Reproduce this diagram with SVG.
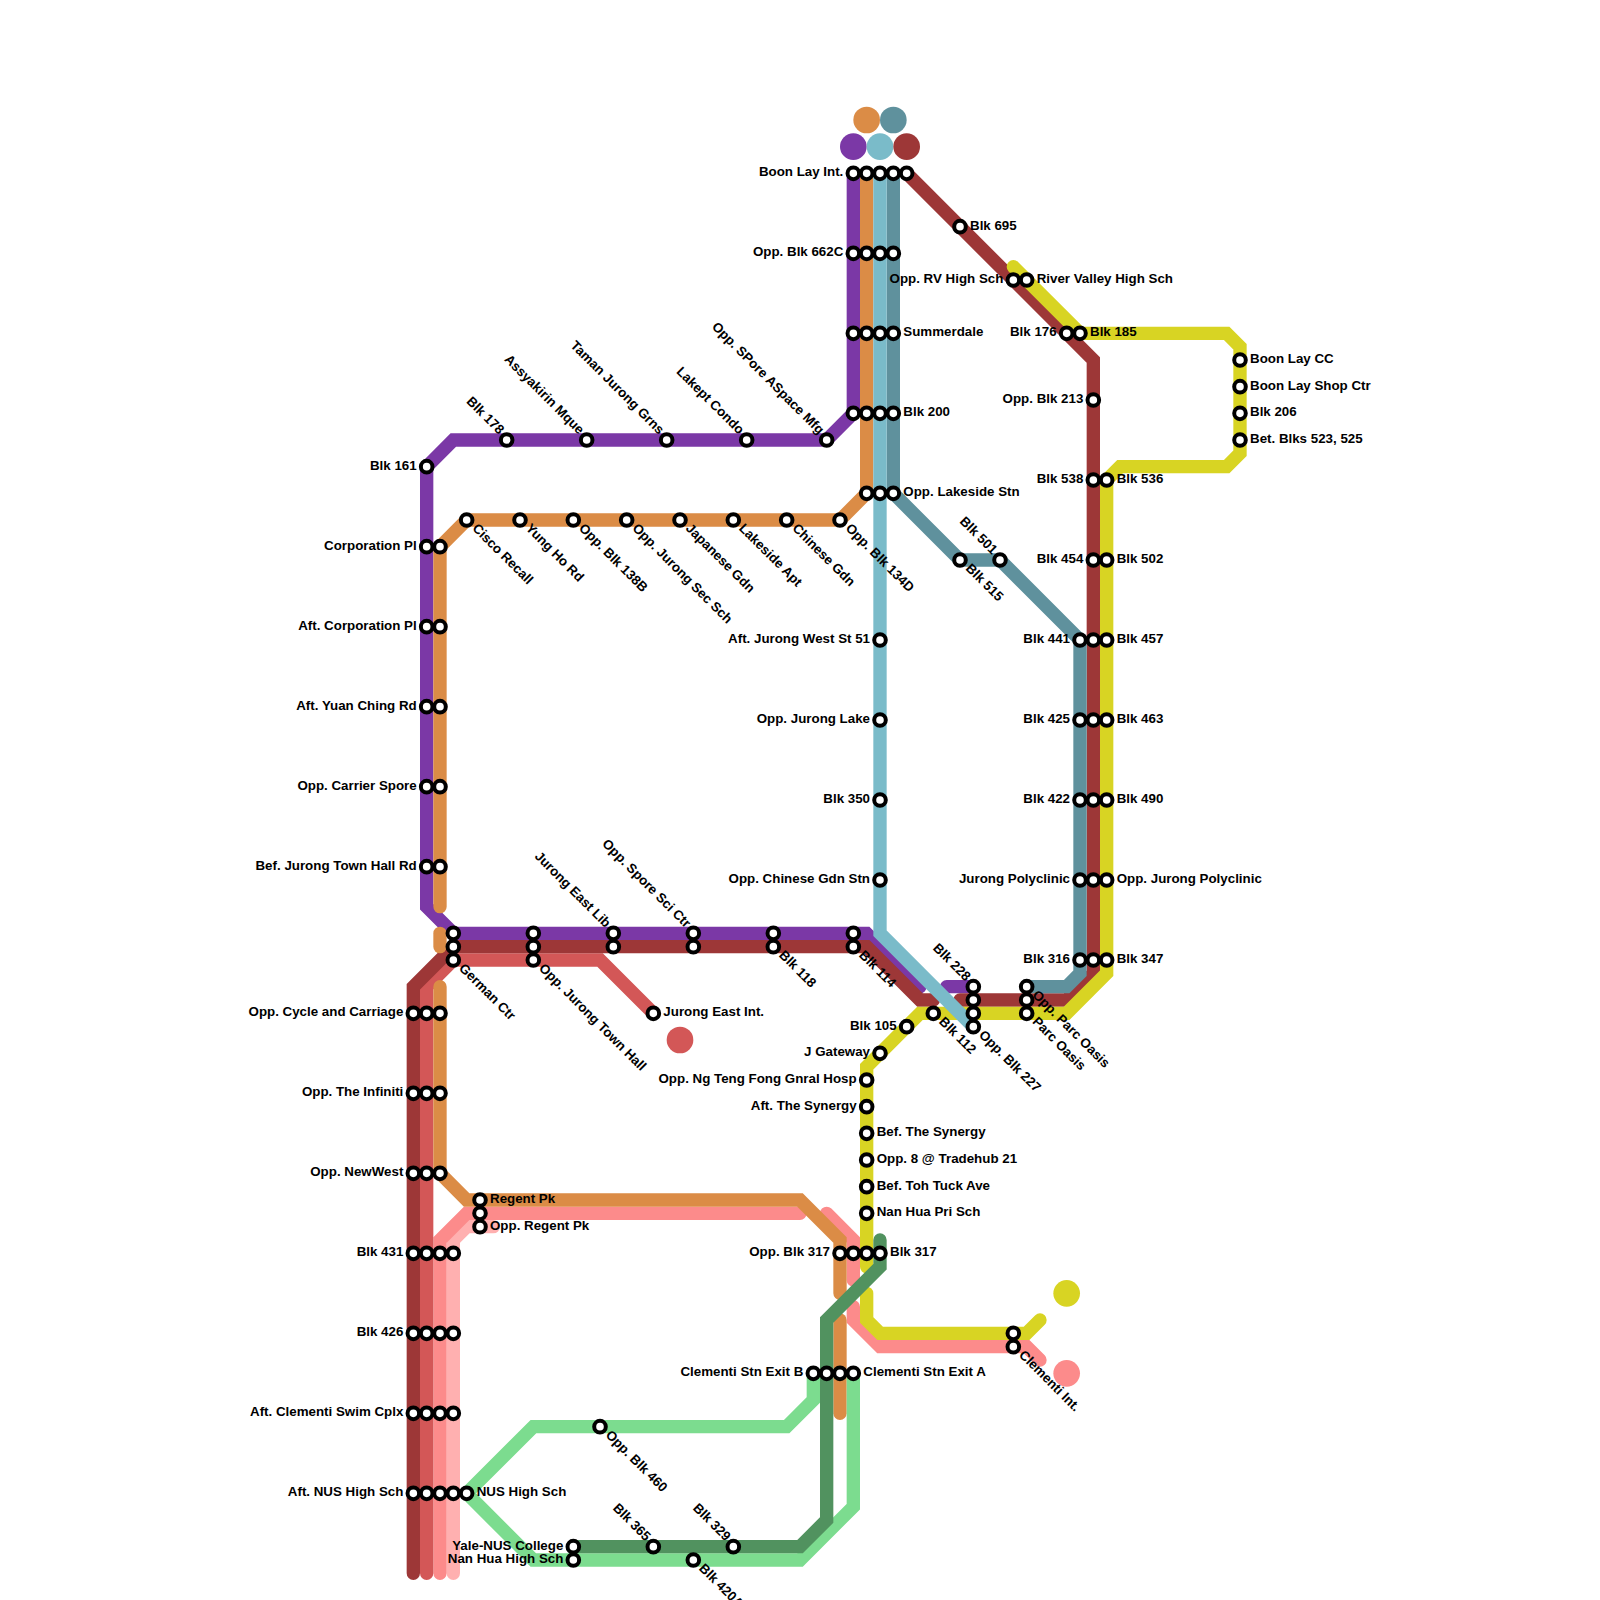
<svg xmlns="http://www.w3.org/2000/svg" width="1600" height="1600" viewBox="0 0 1600 1600">
<style>
.ln{fill:none;stroke-width:1;stroke-linecap:round;stroke-linejoin:miter}
.pu{stroke:#7b38a6}.or{stroke:#db8c46}.lb{stroke:#7abbc9}.te{stroke:#5f919d}.re{stroke:#9d3737}.co{stroke:#d35757}.pk{stroke:#fc8b8b}.lp{stroke:#ffb0b0}.ye{stroke:#d8d423}.gr{stroke:#7cdc8f}.dg{stroke:#51925f}
.d{fill:#fff;stroke:#000;stroke-width:4}
text{font-family:"Liberation Sans",Arial,sans-serif;font-weight:700;font-size:13.33px;fill:#000}
.R{transform:translate(10px,3px)}
.L{transform:translate(-10px,3px);text-anchor:end}
.DR{transform:translate(5px,9px) rotate(45deg)}
.UL{transform:translate(-8px,-5px) rotate(45deg);text-anchor:end}
</style>
<defs><circle id="d" class="d" r="5.8"/></defs>
<rect width="1600" height="1600" fill="#fff"/>
<g id="connectors" transform="scale(13.33333)">
<polyline class="ln pu" points="64,13 64,31 62,33 34,33 32,35 32,68 34,70 65,70 69,74"/>
<polyline class="ln pu" points="71,74 73,74"/>
<polyline class="ln lp" points="37,92 35,92 34,93 34,118"/>
<polyline class="ln pk" points="62,91 64,93 64,96"/>
<polyline class="ln pk" points="60,91 35,91 33,93 33,118"/>
<polyline class="ln pk" points="64,98 64,99 66,101 77,101 78,102"/>
<polyline class="ln co" points="49,76 45,72 34,72 32,74 32,118"/>
<polyline class="ln re" points="68,13 82,27 82,73 80,75 72,75"/>
<polyline class="ln re" points="70,75 69,75 65,71 34,71 31,74 31,118"/>
<polyline class="ln or" points="65,13 65,37 63,39 35,39 33,41 33,68"/>
<polyline class="ln or" points="33,70 33,71"/>
<polyline class="ln or" points="33,74 33,88 35,90 60,90 63,93 63,97"/>
<polyline class="ln or" points="63,99 63,106"/>
<polyline class="ln te" points="67,13 67,37 72,42 75,42 81,48 81,73 80,74 77,74"/>
<polyline class="ln ye" points="76,20 81,25 92,25 93,26 93,34 92,35 84,35 83,36 83,73 80,76 69,76 65,80 65,95"/>
<polyline class="ln ye" points="65,97 65,99 66,100 77,100 78,99"/>
<polyline class="ln gr" points="61,103 61,105 59,107 40,107 35,112 40,117 60,117 64,113 64,103"/>
<polyline class="ln dg" points="66,93 66,95 62,99 62,114 60,116 43,116"/>
<polyline class="ln lb" points="66,13 66,70 73,77"/>
</g>
<g id="termini">
<circle cx="866.67" cy="120" r="13.33" fill="#db8c46"/>
<circle cx="893.33" cy="120" r="13.33" fill="#5f919d"/>
<circle cx="853.33" cy="146.67" r="13.33" fill="#7b38a6"/>
<circle cx="880" cy="146.67" r="13.33" fill="#7abbc9"/>
<circle cx="906.67" cy="146.67" r="13.33" fill="#9d3737"/>
<circle cx="680" cy="1040" r="13.33" fill="#d35757"/>
<circle cx="1066.67" cy="1293.33" r="13.33" fill="#d8d423"/>
<circle cx="1066.67" cy="1373.33" r="13.33" fill="#fc8b8b"/>
</g>
<g id="stations">
<g id="n1" transform="translate(853.33 173.33)"><use href="#d"/><text class="L">Boon Lay Int.</text></g>
<g id="n2" transform="translate(866.67 173.33)"><use href="#d"/></g>
<g id="n3" transform="translate(880 173.33)"><use href="#d"/></g>
<g id="n4" transform="translate(893.33 173.33)"><use href="#d"/></g>
<g id="n5" transform="translate(906.67 173.33)"><use href="#d"/></g>
<g id="n6" transform="translate(853.33 253.33)"><use href="#d"/><text class="L">Opp. Blk 662C</text></g>
<g id="n7" transform="translate(866.67 253.33)"><use href="#d"/></g>
<g id="n8" transform="translate(880 253.33)"><use href="#d"/></g>
<g id="n9" transform="translate(893.33 253.33)"><use href="#d"/></g>
<g id="n10" transform="translate(853.33 333.33)"><use href="#d"/></g>
<g id="n11" transform="translate(866.67 333.33)"><use href="#d"/></g>
<g id="n12" transform="translate(880 333.33)"><use href="#d"/></g>
<g id="n13" transform="translate(893.33 333.33)"><use href="#d"/><text class="R">Summerdale</text></g>
<g id="n14" transform="translate(853.33 413.33)"><use href="#d"/></g>
<g id="n15" transform="translate(866.67 413.33)"><use href="#d"/></g>
<g id="n16" transform="translate(880 413.33)"><use href="#d"/></g>
<g id="n17" transform="translate(893.33 413.33)"><use href="#d"/><text class="R">Blk 200</text></g>
<g id="n18" transform="translate(866.67 493.33)"><use href="#d"/></g>
<g id="n19" transform="translate(880 493.33)"><use href="#d"/></g>
<g id="n20" transform="translate(893.33 493.33)"><use href="#d"/><text class="R">Opp. Lakeside Stn</text></g>
<g id="n21" transform="translate(506.67 440)"><use href="#d"/><text class="UL">Blk 178</text></g>
<g id="n22" transform="translate(586.67 440)"><use href="#d"/><text class="UL">Assyakirin Mque</text></g>
<g id="n23" transform="translate(666.67 440)"><use href="#d"/><text class="UL">Taman Jurong Grns</text></g>
<g id="n24" transform="translate(746.67 440)"><use href="#d"/><text class="UL">Lakept Condo</text></g>
<g id="n25" transform="translate(826.67 440)"><use href="#d"/><text class="UL">Opp. SPore ASpace Mfg</text></g>
<g id="n26" transform="translate(426.67 466.67)"><use href="#d"/><text class="L">Blk 161</text></g>
<g id="n27" transform="translate(466.67 520)"><use href="#d"/><text class="DR">Cisco Recall</text></g>
<g id="n28" transform="translate(520 520)"><use href="#d"/><text class="DR">Yung Ho Rd</text></g>
<g id="n29" transform="translate(573.33 520)"><use href="#d"/><text class="DR">Opp. Blk 138B</text></g>
<g id="n30" transform="translate(626.67 520)"><use href="#d"/><text class="DR">Opp. Jurong Sec Sch</text></g>
<g id="n31" transform="translate(680 520)"><use href="#d"/><text class="DR">Japanese Gdn</text></g>
<g id="n32" transform="translate(733.33 520)"><use href="#d"/><text class="DR">Lakeside Apt</text></g>
<g id="n33" transform="translate(786.67 520)"><use href="#d"/><text class="DR">Chinese Gdn</text></g>
<g id="n34" transform="translate(840 520)"><use href="#d"/><text class="DR">Opp. Blk 134D</text></g>
<g id="n35" transform="translate(426.67 546.67)"><use href="#d"/><text class="L">Corporation Pl</text></g>
<g id="n36" transform="translate(440 546.67)"><use href="#d"/></g>
<g id="n37" transform="translate(426.67 626.67)"><use href="#d"/><text class="L">Aft. Corporation Pl</text></g>
<g id="n38" transform="translate(440 626.67)"><use href="#d"/></g>
<g id="n39" transform="translate(426.67 706.67)"><use href="#d"/><text class="L">Aft. Yuan Ching Rd</text></g>
<g id="n40" transform="translate(440 706.67)"><use href="#d"/></g>
<g id="n41" transform="translate(426.67 786.67)"><use href="#d"/><text class="L">Opp. Carrier Spore</text></g>
<g id="n42" transform="translate(440 786.67)"><use href="#d"/></g>
<g id="n43" transform="translate(426.67 866.67)"><use href="#d"/><text class="L">Bef. Jurong Town Hall Rd</text></g>
<g id="n44" transform="translate(440 866.67)"><use href="#d"/></g>
<g id="n45" transform="translate(960 226.67)"><use href="#d"/><text class="R">Blk 695</text></g>
<g id="n46" transform="translate(1013.33 280)"><use href="#d"/><text class="L">Opp. RV High Sch</text></g>
<g id="n47" transform="translate(1026.67 280)"><use href="#d"/><text class="R">River Valley High Sch</text></g>
<g id="n48" transform="translate(1066.67 333.33)"><use href="#d"/><text class="L">Blk 176</text></g>
<g id="n49" transform="translate(1080 333.33)"><use href="#d"/><text class="R">Blk 185</text></g>
<g id="n50" transform="translate(1240 360)"><use href="#d"/><text class="R">Boon Lay CC</text></g>
<g id="n51" transform="translate(1240 386.67)"><use href="#d"/><text class="R">Boon Lay Shop Ctr</text></g>
<g id="n52" transform="translate(1240 413.33)"><use href="#d"/><text class="R">Blk 206</text></g>
<g id="n53" transform="translate(1240 440)"><use href="#d"/><text class="R">Bet. Blks 523, 525</text></g>
<g id="n54" transform="translate(1093.33 400)"><use href="#d"/><text class="L">Opp. Blk 213</text></g>
<g id="n55" transform="translate(1093.33 480)"><use href="#d"/><text class="L">Blk 538</text></g>
<g id="n56" transform="translate(1106.67 480)"><use href="#d"/><text class="R">Blk 536</text></g>
<g id="n57" transform="translate(960 560)"><use href="#d"/><text class="DR">Blk 515</text></g>
<g id="n58" transform="translate(1000 560)"><use href="#d"/><text class="UL">Blk 501</text></g>
<g id="n59" transform="translate(1093.33 560)"><use href="#d"/><text class="L">Blk 454</text></g>
<g id="n60" transform="translate(1106.67 560)"><use href="#d"/><text class="R">Blk 502</text></g>
<g id="n61" transform="translate(880 640)"><use href="#d"/><text class="L">Aft. Jurong West St 51</text></g>
<g id="n62" transform="translate(1080 640)"><use href="#d"/><text class="L">Blk 441</text></g>
<g id="n63" transform="translate(1093.33 640)"><use href="#d"/></g>
<g id="n64" transform="translate(1106.67 640)"><use href="#d"/><text class="R">Blk 457</text></g>
<g id="n65" transform="translate(880 720)"><use href="#d"/><text class="L">Opp. Jurong Lake</text></g>
<g id="n66" transform="translate(1080 720)"><use href="#d"/><text class="L">Blk 425</text></g>
<g id="n67" transform="translate(1093.33 720)"><use href="#d"/></g>
<g id="n68" transform="translate(1106.67 720)"><use href="#d"/><text class="R">Blk 463</text></g>
<g id="n69" transform="translate(880 800)"><use href="#d"/><text class="L">Blk 350</text></g>
<g id="n70" transform="translate(1080 800)"><use href="#d"/><text class="L">Blk 422</text></g>
<g id="n71" transform="translate(1093.33 800)"><use href="#d"/></g>
<g id="n72" transform="translate(1106.67 800)"><use href="#d"/><text class="R">Blk 490</text></g>
<g id="n73" transform="translate(880 880)"><use href="#d"/><text class="L">Opp. Chinese Gdn Stn</text></g>
<g id="n74" transform="translate(1080 880)"><use href="#d"/><text class="L">Jurong Polyclinic</text></g>
<g id="n75" transform="translate(1093.33 880)"><use href="#d"/></g>
<g id="n76" transform="translate(1106.67 880)"><use href="#d"/><text class="R">Opp. Jurong Polyclinic</text></g>
<g id="n77" transform="translate(1080 960)"><use href="#d"/><text class="L">Blk 316</text></g>
<g id="n78" transform="translate(1093.33 960)"><use href="#d"/></g>
<g id="n79" transform="translate(1106.67 960)"><use href="#d"/><text class="R">Blk 347</text></g>
<g id="n80" transform="translate(453.33 933.33)"><use href="#d"/></g>
<g id="n81" transform="translate(453.33 946.67)"><use href="#d"/></g>
<g id="n82" transform="translate(453.33 960)"><use href="#d"/><text class="DR">German Ctr</text></g>
<g id="n83" transform="translate(533.33 933.33)"><use href="#d"/></g>
<g id="n84" transform="translate(533.33 946.67)"><use href="#d"/></g>
<g id="n85" transform="translate(533.33 960)"><use href="#d"/><text class="DR">Opp. Jurong Town Hall</text></g>
<g id="n86" transform="translate(613.33 933.33)"><use href="#d"/><text class="UL">Jurong East Lib</text></g>
<g id="n87" transform="translate(613.33 946.67)"><use href="#d"/></g>
<g id="n88" transform="translate(693.33 933.33)"><use href="#d"/><text class="UL">Opp. Spore Sci Ctr</text></g>
<g id="n89" transform="translate(693.33 946.67)"><use href="#d"/></g>
<g id="n90" transform="translate(773.33 933.33)"><use href="#d"/></g>
<g id="n91" transform="translate(773.33 946.67)"><use href="#d"/><text class="DR">Blk 118</text></g>
<g id="n92" transform="translate(853.33 933.33)"><use href="#d"/></g>
<g id="n93" transform="translate(853.33 946.67)"><use href="#d"/><text class="DR">Blk 114</text></g>
<g id="n94" transform="translate(653.33 1013.33)"><use href="#d"/><text class="R">Jurong East Int.</text></g>
<g id="n95" transform="translate(973.33 986.67)"><use href="#d"/><text class="UL">Blk 228</text></g>
<g id="n96" transform="translate(973.33 1000)"><use href="#d"/></g>
<g id="n97" transform="translate(973.33 1013.33)"><use href="#d"/></g>
<g id="n98" transform="translate(973.33 1026.67)"><use href="#d"/><text class="DR">Opp. Blk 227</text></g>
<g id="n99" transform="translate(1026.67 986.67)"><use href="#d"/><text class="DR">Opp. Parc Oasis</text></g>
<g id="n100" transform="translate(1026.67 1000)"><use href="#d"/></g>
<g id="n101" transform="translate(1026.67 1013.33)"><use href="#d"/><text class="DR">Parc Oasis</text></g>
<g id="n102" transform="translate(933.33 1013.33)"><use href="#d"/><text class="DR">Blk 112</text></g>
<g id="n103" transform="translate(906.67 1026.67)"><use href="#d"/><text class="L">Blk 105</text></g>
<g id="n104" transform="translate(880 1053.33)"><use href="#d"/><text class="L">J Gateway</text></g>
<g id="n105" transform="translate(866.67 1080)"><use href="#d"/><text class="L">Opp. Ng Teng Fong Gnral Hosp</text></g>
<g id="n106" transform="translate(866.67 1106.67)"><use href="#d"/><text class="L">Aft. The Synergy</text></g>
<g id="n107" transform="translate(866.67 1133.33)"><use href="#d"/><text class="R">Bef. The Synergy</text></g>
<g id="n108" transform="translate(866.67 1160)"><use href="#d"/><text class="R">Opp. 8 @ Tradehub 21</text></g>
<g id="n109" transform="translate(866.67 1186.67)"><use href="#d"/><text class="R">Bef. Toh Tuck Ave</text></g>
<g id="n110" transform="translate(866.67 1213.33)"><use href="#d"/><text class="R">Nan Hua Pri Sch</text></g>
<g id="n111" transform="translate(413.33 1013.33)"><use href="#d"/><text class="L">Opp. Cycle and Carriage</text></g>
<g id="n112" transform="translate(426.67 1013.33)"><use href="#d"/></g>
<g id="n113" transform="translate(440 1013.33)"><use href="#d"/></g>
<g id="n114" transform="translate(413.33 1093.33)"><use href="#d"/><text class="L">Opp. The Infiniti</text></g>
<g id="n115" transform="translate(426.67 1093.33)"><use href="#d"/></g>
<g id="n116" transform="translate(440 1093.33)"><use href="#d"/></g>
<g id="n117" transform="translate(413.33 1173.33)"><use href="#d"/><text class="L">Opp. NewWest</text></g>
<g id="n118" transform="translate(426.67 1173.33)"><use href="#d"/></g>
<g id="n119" transform="translate(440 1173.33)"><use href="#d"/></g>
<g id="n120" transform="translate(480 1200)"><use href="#d"/><text class="R">Regent Pk</text></g>
<g id="n121" transform="translate(480 1213.33)"><use href="#d"/></g>
<g id="n122" transform="translate(480 1226.67)"><use href="#d"/><text class="R">Opp. Regent Pk</text></g>
<g id="n123" transform="translate(413.33 1253.33)"><use href="#d"/><text class="L">Blk 431</text></g>
<g id="n124" transform="translate(426.67 1253.33)"><use href="#d"/></g>
<g id="n125" transform="translate(440 1253.33)"><use href="#d"/></g>
<g id="n126" transform="translate(453.33 1253.33)"><use href="#d"/></g>
<g id="n127" transform="translate(413.33 1333.33)"><use href="#d"/><text class="L">Blk 426</text></g>
<g id="n128" transform="translate(426.67 1333.33)"><use href="#d"/></g>
<g id="n129" transform="translate(440 1333.33)"><use href="#d"/></g>
<g id="n130" transform="translate(453.33 1333.33)"><use href="#d"/></g>
<g id="n131" transform="translate(413.33 1413.33)"><use href="#d"/><text class="L">Aft. Clementi Swim Cplx</text></g>
<g id="n132" transform="translate(426.67 1413.33)"><use href="#d"/></g>
<g id="n133" transform="translate(440 1413.33)"><use href="#d"/></g>
<g id="n134" transform="translate(453.33 1413.33)"><use href="#d"/></g>
<g id="n135" transform="translate(413.33 1493.33)"><use href="#d"/><text class="L">Aft. NUS High Sch</text></g>
<g id="n136" transform="translate(426.67 1493.33)"><use href="#d"/></g>
<g id="n137" transform="translate(440 1493.33)"><use href="#d"/></g>
<g id="n138" transform="translate(453.33 1493.33)"><use href="#d"/></g>
<g id="n139" transform="translate(466.67 1493.33)"><use href="#d"/><text class="R">NUS High Sch</text></g>
<g id="n140" transform="translate(840 1253.33)"><use href="#d"/><text class="L">Opp. Blk 317</text></g>
<g id="n141" transform="translate(853.33 1253.33)"><use href="#d"/></g>
<g id="n142" transform="translate(866.67 1253.33)"><use href="#d"/></g>
<g id="n143" transform="translate(880 1253.33)"><use href="#d"/><text class="R">Blk 317</text></g>
<g id="n144" transform="translate(1013.33 1333.33)"><use href="#d"/></g>
<g id="n145" transform="translate(1013.33 1346.67)"><use href="#d"/><text class="DR">Clementi Int.</text></g>
<g id="n146" transform="translate(813.33 1373.33)"><use href="#d"/><text class="L">Clementi Stn Exit B</text></g>
<g id="n147" transform="translate(826.67 1373.33)"><use href="#d"/></g>
<g id="n148" transform="translate(840 1373.33)"><use href="#d"/></g>
<g id="n149" transform="translate(853.33 1373.33)"><use href="#d"/><text class="R">Clementi Stn Exit A</text></g>
<g id="n150" transform="translate(600 1426.67)"><use href="#d"/><text class="DR">Opp. Blk 460</text></g>
<g id="n151" transform="translate(573.33 1546.67)"><use href="#d"/><text class="L">Yale-NUS College</text></g>
<g id="n152" transform="translate(573.33 1560)"><use href="#d"/><text class="L">Nan Hua High Sch</text></g>
<g id="n153" transform="translate(653.33 1546.67)"><use href="#d"/><text class="UL">Blk 365</text></g>
<g id="n154" transform="translate(733.33 1546.67)"><use href="#d"/><text class="UL">Blk 329</text></g>
<g id="n155" transform="translate(693.33 1560)"><use href="#d"/><text class="DR">Blk 420A</text></g>
</g>
</svg>
